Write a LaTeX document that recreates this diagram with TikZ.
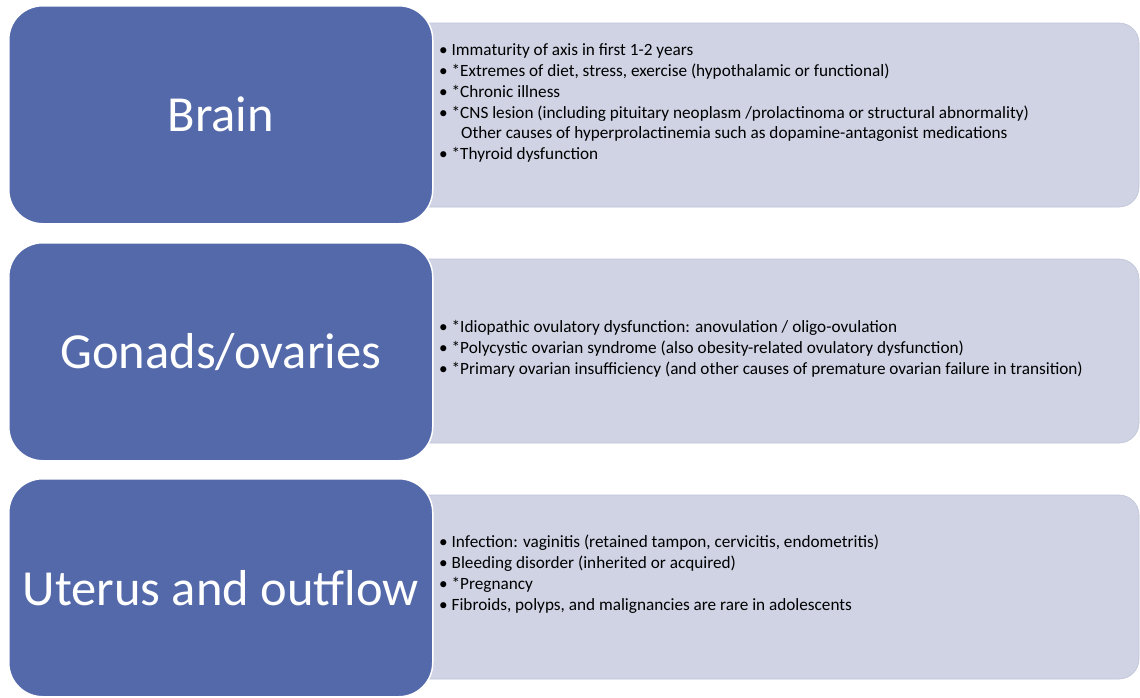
\documentclass[tikz,border=0pt]{standalone}
\usepackage{fontspec}
\setmainfont{Carlito}
\definecolor{bluebox}{RGB}{84,105,170}
\definecolor{lightbox}{RGB}{207,211,228}
\definecolor{lightedge}{RGB}{190,195,215}
\begin{document}
\begin{tikzpicture}[x=1pt,y=-1pt,
  catbox/.style={fill=bluebox,draw=white,line width=1.5pt,rounded corners=34pt},
  listbox/.style={fill=lightbox,draw=lightedge,line width=0.6pt,rounded corners=20pt},
  cattext/.style={text=white,font=\fontsize{50.5}{58}\selectfont,inner sep=0pt},
  listtext/.style={anchor=west,inner sep=0pt,align=left,font=\fontsize{17.2}{20.9}\selectfont,text=black}]
\useasboundingbox (0,0) rectangle (1140,697);
% light boxes
\draw[listbox] (405,23) rectangle (1139,207);
\draw[listbox] (405,259) rectangle (1139,443);
\draw[listbox] (405,495) rectangle (1139,679);
% blue boxes
\node[catbox,minimum width=424pt,minimum height=218pt,anchor=north west] (brain) at (8,5) {};
\node[catbox,minimum width=424pt,minimum height=218pt,anchor=north west] (gonads) at (8,242) {};
\node[catbox,minimum width=424pt,minimum height=218pt,anchor=north west] (uterus) at (8,478) {};
\node[cattext] (brainT) at (brain.center) {Brain};
\node[cattext] (gonadsT) at (gonads.center) {Gonads/ovaries};
\node[cattext] (uterusT) at (uterus.center) {Uterus and outflow};
% lists
\node[listtext] (l1) at (439,103) {%
\textbullet\ Immaturity of axis in first 1-2 years\\
\textbullet\ *Extremes of diet, stress, exercise (hypothalamic or functional)\\
\textbullet\ *Chronic illness\\
\textbullet\ *CNS lesion (including pituitary neoplasm /prolactinoma or structural abnormality)\\
\hspace*{22pt}Other causes of hyperprolactinemia such as dopamine-antagonist medications\\
\textbullet\ *Thyroid dysfunction};
\node[listtext] (l2) at (439,349) {%
\textbullet\ *Idiopathic ovulatory dysfunction: anovulation / oligo-ovulation\\
\textbullet\ *Polycystic ovarian syndrome (also obesity-related ovulatory dysfunction)\\
\textbullet\ *Primary ovarian insufficiency (and other causes of premature ovarian failure in transition)};
\node[listtext] (l3) at (439,574) {%
\textbullet\ Infection: vaginitis (retained tampon, cervicitis, endometritis)\\
\textbullet\ Bleeding disorder (inherited or acquired)\\
\textbullet\ *Pregnancy\\
\textbullet\ Fibroids, polyps, and malignancies are rare in adolescents};
\end{tikzpicture}
\end{document}
